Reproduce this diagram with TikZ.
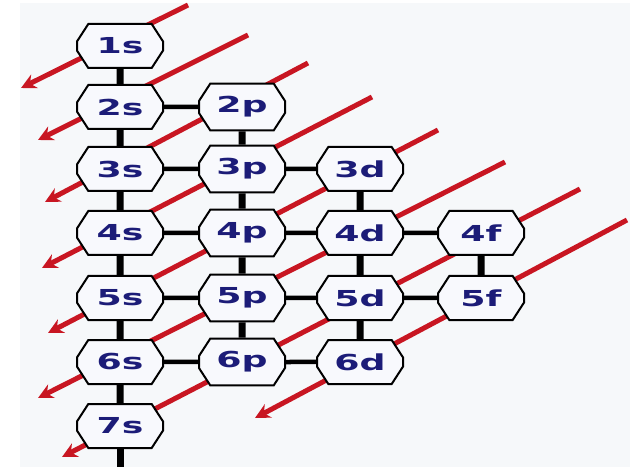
\documentclass[tikz,border=0pt]{standalone}
\usepackage{fontspec}
\newfontfamily\orbfont[FakeStretch=1.65]{DejaVu Sans Bold}
\usetikzlibrary{shapes.misc,arrows.meta}
\definecolor{orbblue}{RGB}{28,28,120}
\definecolor{arrred}{RGB}{200,22,34}
\definecolor{paper}{RGB}{246,248,250}
\definecolor{orbfill}{RGB}{248,249,253}
\begin{document}
\begin{tikzpicture}[
  x=1pt,y=-1pt,
  orb/.style={chamfered rectangle,draw,line width=2pt,fill=orbfill,
    minimum width=86pt,minimum height=44pt,inner sep=0pt,
    chamfered rectangle ysep=13pt,chamfered rectangle angle=33,
    text=orbblue,font=\orbfont\fontsize{22}{22}\selectfont},
  vbond/.style={line width=7pt},
  hbond/.style={line width=4.5pt},
  order/.style={arrred,line width=5pt,-{Stealth[length=15pt,width=15pt,inset=5pt]}}
]
\fill[white] (0,0) rectangle (630,467);
\fill[paper] (20,3) rectangle (630,467);
% filling order arrows
\coordinate (t1) at (188,5);   \coordinate (h1) at (21,88);
\coordinate (t2) at (248,35);  \coordinate (h2) at (38,140);
\coordinate (t3) at (308,63);  \coordinate (h3) at (45,202);
\coordinate (t4) at (372,97);  \coordinate (h4) at (42,268);
\coordinate (t5) at (438,130); \coordinate (h5) at (48,333);
\coordinate (t6) at (505,162); \coordinate (h6) at (38,398);
\coordinate (t7) at (580,189); \coordinate (h7) at (62,457);
\coordinate (t8) at (627,220); \coordinate (h8) at (255,418);
\draw[order] (t1)--(h1);
\draw[order] (t2)--(h2);
\draw[order] (t3)--(h3);
\draw[order] (t4)--(h4);
\draw[order] (t5)--(h5);
\draw[order] (t6)--(h6);
\draw[order] (t7)--(h7);
\draw[order] (t8)--(h8);
% orbitals
\node[orb] (s1) at (120,46) {1s};
\node[orb] (s2) at (120,107) {2s};
\node[orb] (p2) at (242,107) {2p};
\node[orb] (s3) at (120,169) {3s};
\node[orb] (p3) at (242,169) {3p};
\node[orb] (d3) at (360,169) {3d};
\node[orb] (s4) at (120,233) {4s};
\node[orb] (p4) at (242,233) {4p};
\node[orb] (d4) at (360,233) {4d};
\node[orb] (f4) at (481,233) {4f};
\node[orb] (s5) at (120,298) {5s};
\node[orb] (p5) at (242,298) {5p};
\node[orb] (d5) at (360,298) {5d};
\node[orb] (f5) at (481,298) {5f};
\node[orb] (s6) at (120,362) {6s};
\node[orb] (p6) at (242,362) {6p};
\node[orb] (d6) at (360,362) {6d};
\node[orb] (s7) at (120,426) {7s};
\coordinate (foot) at (120,467);
\draw[vbond] (s1)--(s2);
\draw[vbond] (s2)--(s3);
\draw[vbond] (s3)--(s4);
\draw[vbond] (s4)--(s5);
\draw[vbond] (s5)--(s6);
\draw[vbond] (s6)--(s7);
\draw[vbond] (s7)--(foot);
\draw[vbond] (p2)--(p3);
\draw[vbond] (p3)--(p4);
\draw[vbond] (p4)--(p5);
\draw[vbond] (p5)--(p6);
\draw[vbond] (d3)--(d4);
\draw[vbond] (d4)--(d5);
\draw[vbond] (d5)--(d6);
\draw[vbond] (f4)--(f5);
\draw[hbond] (s2)--(p2);
\draw[hbond] (s3)--(p3);
\draw[hbond] (p3)--(d3);
\draw[hbond] (s4)--(p4);
\draw[hbond] (p4)--(d4);
\draw[hbond] (d4)--(f4);
\draw[hbond] (s5)--(p5);
\draw[hbond] (p5)--(d5);
\draw[hbond] (d5)--(f5);
\draw[hbond] (s6)--(p6);
\draw[hbond] (p6)--(d6);
\end{tikzpicture}
\end{document}
